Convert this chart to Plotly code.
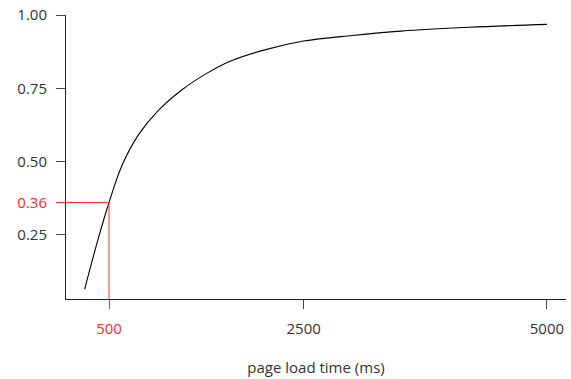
import plotly.graph_objects as go

# Data
load_time_ms = [250, 375, 500, 630, 800, 1000, 1250, 1500, 1750, 2100, 2500, 3000, 3500, 4200, 5000]
share = [0.064, 0.22, 0.36, 0.484, 0.59, 0.672, 0.745, 0.80, 0.843, 0.881, 0.911, 0.930, 0.945,
         0.958, 0.968]

y_ticks = [0.25, 0.50, 0.75, 1.00]
y_tick_text = ["0.25", "0.50", "0.75", "1.00"]
x_ticks = [2500, 5000]
x_tick_text = ["2500", "5000"]

highlight_x = 500
highlight_y = 0.36

x_range = [58, 5196]
y_range = [0.0307, 1.0]

FONT = "'Open Sans', 'Noto Sans', sans-serif"
TEXT = "#333333"
RED = "#ff2a2a"
FS = 15

fig = go.Figure()

fig.add_trace(go.Scatter(
    x=load_time_ms, y=share, mode="lines",
    line=dict(color="black", width=1.1, shape="spline", smoothing=1.0),
    hoverinfo="skip", showlegend=False,
))

# highlight guide lines
fig.add_trace(go.Scatter(
    x=[x_range[0], highlight_x, highlight_x],
    y=[highlight_y, highlight_y, y_range[0]],
    mode="lines", line=dict(color=RED, width=1),
    hoverinfo="skip", showlegend=False, cliponaxis=False,
))

axis_common = dict(showgrid=False, zeroline=False, ticks="outside", ticklen=9,
                   tickwidth=1, automargin=False)

fig.update_layout(
    width=571, height=379,
    margin=dict(l=66, r=5, t=15, b=80),
    paper_bgcolor="white", plot_bgcolor="white",
    font=dict(family=FONT, size=FS, color=TEXT),
    xaxis=dict(range=x_range, tickvals=x_ticks, ticktext=x_tick_text,
               showline=True, linecolor="#222", linewidth=1, tickcolor="#444",
               ticklabelstandoff=7,
               title=dict(text="page load time (ms)", standoff=25,
                          font=dict(family=FONT, size=FS, color=TEXT)),
               **axis_common),
    yaxis=dict(range=y_range, tickvals=y_ticks, ticktext=y_tick_text,
               showline=True, linecolor="#222", linewidth=1, tickcolor="#444",
               ticklabelstandoff=6, **axis_common),
    xaxis2=dict(range=x_range, overlaying="x", side="bottom", anchor="y",
                tickvals=[highlight_x], ticktext=[str(highlight_x)],
                tickcolor=RED, tickfont=dict(color=RED, family=FONT, size=FS),
                showline=False, ticklabelstandoff=7, **axis_common),
    yaxis2=dict(range=y_range, overlaying="y", side="left", anchor="x",
                tickvals=[highlight_y], ticktext=[f"{highlight_y:.2f}"],
                tickcolor=RED, tickfont=dict(color=RED, family=FONT, size=FS),
                showline=False, ticklabelstandoff=6, **axis_common),
)

# invisible trace to activate overlay axes
fig.add_trace(go.Scatter(x=[highlight_x], y=[highlight_y], xaxis="x2", yaxis="y2",
                         mode="markers", marker=dict(opacity=0), hoverinfo="skip",
                         showlegend=False))

fig.write_html(
    "out.html",
    config={"displayModeBar": False},
    post_script="document.body.style.margin='0';document.body.style.padding='0';",
)
